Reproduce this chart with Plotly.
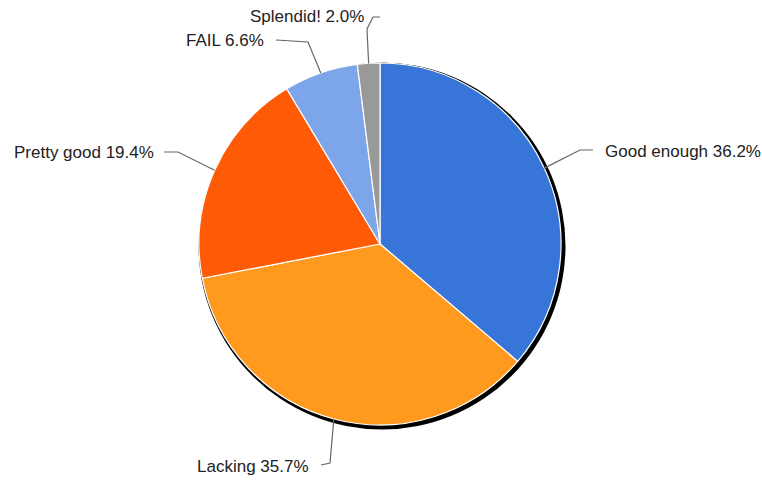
import math
import plotly.graph_objects as go

# ---- data ----
categories = ["Good enough", "Lacking", "Pretty good", "FAIL", "Splendid!"]
shares = [36.2, 35.7, 19.4, 6.6, 2.0]
colors = ["#3875d8", "#ff9a1f", "#ff5a05", "#7da6ea", "#999999"]

# ---- layout / style ----
W, H = 762, 481
CX, CY, R = 380, 244, 181

# label anchor (x, y, xanchor) and leader-line elbow points (pixels)
label_style = {
    "Good enough": dict(x=603, y=151, xanchor="left", elbow=[(580, 150), (593, 150)]),
    "Lacking": dict(x=311, y=466, xanchor="right", elbow=[(330, 463), (321, 465)]),
    "Pretty good": dict(x=156, y=153, xanchor="right", elbow=[(178, 152), (164, 152)]),
    "FAIL": dict(x=266, y=40, xanchor="right", elbow=[(308, 42), (276, 40)]),
    "Splendid!": dict(x=366, y=17, xanchor="right", elbow=[(367, 29), (373, 17), (380, 17)]),
}

def px_to_paper(x, y):
    return x / W, 1 - y / H

fig = go.Figure()

# shadow
sx0, sy0 = px_to_paper(CX + 2 - (R + 2.5), CY + 2 + (R + 2.5))
sx1, sy1 = px_to_paper(CX + 2 + (R + 2.5), CY + 2 - (R + 2.5))
fig.add_trace(go.Pie(values=[1], marker=dict(colors=["#000000"], line=dict(width=0)),
                     domain=dict(x=[sx0, sx1], y=[sy0, sy1]), textinfo="none",
                     hoverinfo="skip", sort=False, showlegend=False))

x0, y0 = px_to_paper(CX - R, CY + R)
x1, y1 = px_to_paper(CX + R, CY - R)
fig.add_trace(go.Pie(labels=categories, values=shares, sort=False, direction="clockwise",
                     rotation=0, marker=dict(colors=colors, line=dict(color="white", width=1.2)),
                     domain=dict(x=[x0, x1], y=[y0, y1]), textinfo="none",
                     hoverinfo="label+percent", showlegend=False))

total = sum(shares)
cum = 0.0
for cat, v in zip(categories, shares):
    mid = (cum + v / 2) / total * 2 * math.pi
    cum += v
    ex = CX + R * math.sin(mid)
    ey = CY - R * math.cos(mid)
    st = label_style[cat]
    pts = [(ex, ey)] + st["elbow"]
    path = "M " + " L ".join(f"{px_to_paper(a, b)[0]},{px_to_paper(a, b)[1]}" for a, b in pts)
    fig.add_shape(type="path", path=path, xref="paper", yref="paper",
                  line=dict(color="#666666", width=1.2))
    ax, ay = px_to_paper(st["x"], st["y"])
    fig.add_annotation(x=ax, y=ay, xref="paper", yref="paper", xanchor=st["xanchor"],
                       yanchor="middle", showarrow=False,
                       text=f"{cat} {v:.1f}%",
                       font=dict(family="Liberation Sans, Arial", size=17, color="#222222"))

fig.update_layout(width=W, height=H, margin=dict(l=0, r=0, t=0, b=0),
                  paper_bgcolor="white", plot_bgcolor="white")
fig.write_html("out.html", config={"displayModeBar": False},
               post_script="document.body.style.margin='0';document.body.style.overflow='hidden';")
